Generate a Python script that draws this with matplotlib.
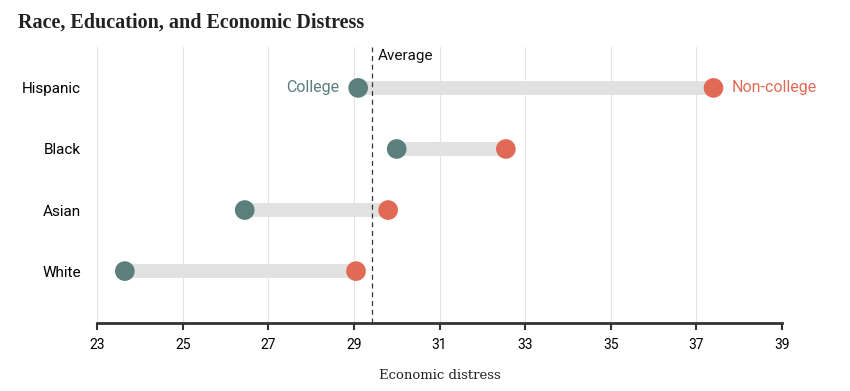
import matplotlib.pyplot as plt

groups = ['Hispanic', 'Black', 'Asian', 'White']
college = [29.1, 30.0, 26.45, 23.65]
non_college = [37.4, 32.55, 29.8, 29.05]
average = 29.42
x_ticks = [23, 25, 27, 29, 31, 33, 35, 37, 39]

college_color = '#5a7f7d'
noncollege_color = '#e06a55'

fig = plt.figure(figsize=(8.5, 3.91), dpi=100)
ax = fig.add_axes([97 / 850, 1 - 323 / 391, 685 / 850, 276 / 391])

y_pos = list(range(len(groups)))[::-1]

for y, c, n in zip(y_pos, college, non_college):
    ax.plot([c, n], [y, y], color='#e1e1e1', linewidth=10,
            solid_capstyle='butt', zorder=2)

ax.scatter(college, y_pos, s=200, color=college_color, zorder=4,
           edgecolors='none')
ax.scatter(non_college, y_pos, s=200, color=noncollege_color, zorder=4,
           edgecolors='none')

ax.axvline(average, color='#333333', linewidth=0.9, linestyle=(0, (4, 3)),
           zorder=3)
ax.text(average + 0.15, 3.52, 'Average', fontsize=11, family='Roboto',
        color='#111111', ha='left', va='center')

ax.text(college[0] - 0.45, y_pos[0], 'College', fontsize=11.5,
        family='Roboto', color=college_color, ha='right', va='center')
ax.text(non_college[0] + 0.42, y_pos[0], 'Non-college', fontsize=11.5,
        family='Roboto', color=noncollege_color, ha='left', va='center')

ax.set_xlim(23, 39)
ax.set_ylim(-0.85, 3.67)
ax.set_xticks(x_ticks)
ax.set_xticklabels([str(t) for t in x_ticks], family='Roboto', fontsize=10)
ax.set_yticks(y_pos)
ax.set_yticklabels(groups, family='Roboto', fontsize=11)
ax.tick_params(axis='y', length=0, pad=11.5)
ax.tick_params(axis='x', length=5, width=1.5, color='#333333', pad=6)

ax.grid(axis='x', color='#e3e3e3', linewidth=0.8, zorder=0)
ax.set_axisbelow(True)
for side in ['top', 'right', 'left']:
    ax.spines[side].set_visible(False)
ax.spines['bottom'].set_color('#333333')
ax.spines['bottom'].set_linewidth(2)

ax.set_xlabel('Economic distress', family='DejaVu Serif', fontsize=9.5,
              color='#222222', labelpad=12)

fig.text(18 / 850, 1 - 23 / 391, 'Race, Education, and Economic Distress',
         family='Liberation Serif', fontweight='bold', fontsize=14.5,
         color='#222222', ha='left', va='center')

fig.savefig('out.png', dpi=100)
